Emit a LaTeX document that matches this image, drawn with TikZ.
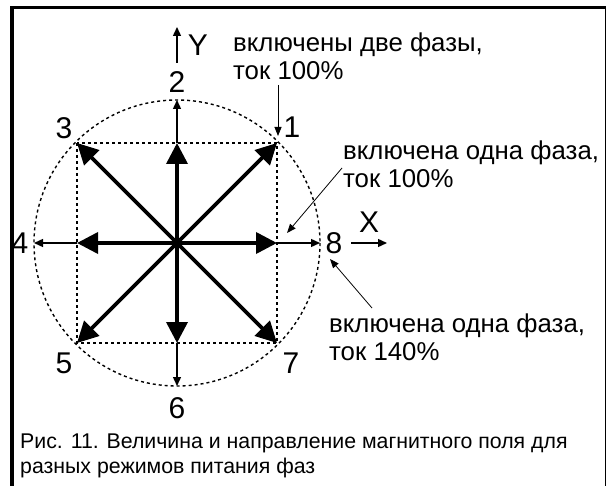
\documentclass[tikz,border=0pt]{standalone}
\usepackage{fontspec}
\setmainfont{Liberation Sans}
\usetikzlibrary{arrows.meta}
\begin{document}
\begin{tikzpicture}[x=1pt,y=-1pt,
  bigvec/.style={line width=3.6pt,-{Triangle[length=21pt,width=21pt]}},
  thinvec/.style={line width=1.4pt,-{Triangle[length=9pt,width=8pt]}},
  pointer/.style={line width=0.8pt,-{Triangle[length=9pt,width=7pt]}},
  guide/.style={line width=1.4pt,dash pattern=on 3pt off 3pt},
  num/.style={font=\fontsize{30}{30}\selectfont,inner sep=0pt},
  note/.style={font=\fontsize{25.8}{28}\selectfont,inner sep=0pt,anchor=base west,align=left},
  captext/.style={font=\fontsize{21.3}{24.5}\selectfont,inner sep=0pt,anchor=base west,align=left}]
\useasboundingbox (0,0) rectangle (609,486);
% frame
\draw[line width=3.5pt] (12,486) -- (12,7.5) -- (606,7.5);
\draw[line width=1pt] (605.5,7.5) -- (605.5,486);
% geometry
\coordinate (O) at (177,243);
\coordinate (C1) at (277,143);
\coordinate (C3) at (77,143);
\coordinate (C5) at (77,343);
\coordinate (C7) at (277,343);
\coordinate (MU) at (177,143);
\coordinate (ML) at (77,243);
\coordinate (MD) at (177,343);
\coordinate (MR) at (277,243);
\coordinate (EU) at (177,100);
\coordinate (EL) at (34,243);
\coordinate (ED) at (177,386);
\coordinate (ER) at (320,243);
% dashed circle and square
\draw[guide] (O) circle (143);
\draw[guide] (C3) rectangle (C7);
% thin outer vectors
\draw[thinvec] (MU) -- (EU);
\draw[thinvec] (ML) -- (EL);
\draw[thinvec] (MD) -- (ED);
\draw[thinvec] (MR) -- (ER);
% thick vectors
\foreach \t in {C1,C3,C5,C7,MU,ML,MD,MR} \draw[bigvec] (O) -- (\t);
% axes
\coordinate (Y0) at (177,63);
\coordinate (Y1) at (177,27);
\coordinate (X0) at (351,243);
\coordinate (X1) at (387,243);
\draw[thinvec] (Y0) -- (Y1);
\draw[thinvec] (X0) -- (X1);
\node[num] (ly) at (198,45) {Y};
\node[num] (lx) at (369,222) {X};
% numbers
\node[num] (n1) at (292,127) {1};
\node[num] (n2) at (177,82) {2};
\node[num] (n3) at (64,128) {3};
\node[num] (n4) at (20,243) {4};
\node[num] (n5) at (64,363) {5};
\node[num] (n6) at (177,408) {6};
\node[num] (n7) at (291,363) {7};
\node[num] (n8) at (334,243) {8};
% notes
\node[note] (t1) at (233,80) {включены две фазы,\\ток 100\%};
\node[note] (t2) at (343,187) {включена одна фаза,\\ток 100\%};
\node[note] (t3) at (329,360) {включена одна фаза,\\ток 140\%};
\coordinate (p1a) at (278,85);
\coordinate (p1b) at (278,136);
\coordinate (p2a) at (342,168);
\coordinate (p2b) at (287,233);
\coordinate (p3a) at (372,308);
\coordinate (p3b) at (330,259);
\draw[pointer] (p1a) -- (p1b);
\draw[pointer] (p2a) -- (p2b);
\draw[pointer] (p3a) -- (p3b);
% caption
\node[captext] (capt) at (20,473) {Рис. 11. Величина и направление магнитного поля для\\разных режимов питания фаз};
\end{tikzpicture}
\end{document}
